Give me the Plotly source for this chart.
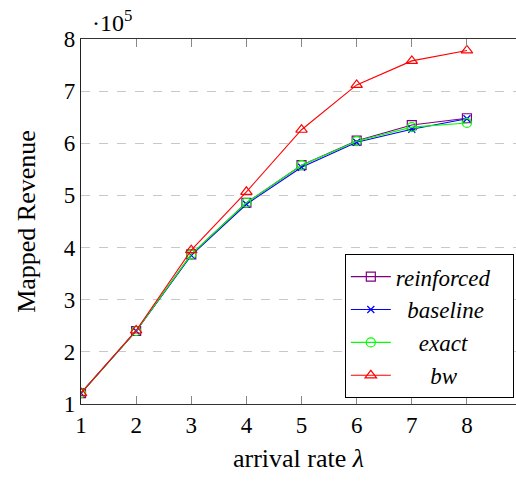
import plotly.graph_objects as go

# arrival rate (lambda) and mapped revenue in units of 1e5
arrival_rate = [1, 2, 3, 4, 5, 6, 7, 8]
reinforced = [1.21, 2.40, 3.87, 4.86, 5.58, 6.05, 6.35, 6.48]
baseline = [1.21, 2.40, 3.85, 4.83, 5.54, 6.02, 6.27, 6.47]
exact = [1.21, 2.40, 3.87, 4.86, 5.58, 6.04, 6.31, 6.39]
bw = [1.21, 2.41, 3.95, 5.07, 6.26, 7.12, 7.58, 7.78]

x_ticks = [1, 2, 3, 4, 5, 6, 7, 8]
y_ticks = [1, 2, 3, 4, 5, 6, 7, 8]

SERIF = "Liberation Serif, Times New Roman, serif"
NB = "&nbsp;"

# name, values, colour, marker, marker size, leading pad to centre legend text
series = [
    ("reinforced", reinforced, "#800080", "square-open", 9, 0),
    ("baseline", baseline, "#0000ff", "x-thin-open", 7, 2),
    ("exact", exact, "#00ff00", "circle-open", 9, 4),
    ("bw", bw, "#ff0000", "triangle-up-open", 10, 6),
]

fig = go.Figure()
for name, vals, color, symbol, msize, pad in series:
    fig.add_trace(go.Scatter(
        x=arrival_rate, y=vals, mode="lines+markers",
        name=NB * pad + f"<i>{name}</i>" + NB * 3,
        line=dict(color=color, width=1.1),
        marker=dict(symbol=symbol, size=msize, color=color,
                    line=dict(color=color, width=1.2)),
    ))

fig.update_layout(
    width=516, height=482,
    margin=dict(l=81, r=0, t=39, b=78),
    paper_bgcolor="white", plot_bgcolor="white",
    font=dict(family=SERIF, size=23, color="black"),
    showlegend=True,
    legend=dict(
        x=0.995, y=0.016, xanchor="right", yanchor="bottom",
        bordercolor="black", borderwidth=1, bgcolor="white",
        font=dict(family=SERIF, size=23),
        itemwidth=40, tracegroupgap=0,
    ),
    xaxis=dict(
        range=[1, 8.89], tickvals=x_ticks,
        ticks="inside", ticklen=8, tickcolor="#888",
        showline=True, linecolor="#333", linewidth=1.2, mirror="ticks",
        showgrid=False, zeroline=False,
        title=dict(text="arrival rate <i>λ</i>", font=dict(size=26), standoff=12),
        tickfont=dict(size=23),
    ),
    yaxis=dict(
        range=[1, 8], tickvals=y_ticks,
        ticks="", showline=True, linecolor="#222", linewidth=1.2, mirror=True,
        showgrid=True, gridcolor="#c8c8c8", griddash="dash", gridwidth=1,
        zeroline=False,
        title=dict(text="Mapped Revenue", font=dict(size=26), standoff=20),
        tickfont=dict(size=23),
    ),
    annotations=[dict(
        text="·10<sup>5</sup>", xref="paper", yref="paper",
        x=0.0, y=1.0, xanchor="left", yanchor="bottom", yshift=1, xshift=9,
        showarrow=False, font=dict(family=SERIF, size=24),
    )],
)

fig.write_html("out.html")
